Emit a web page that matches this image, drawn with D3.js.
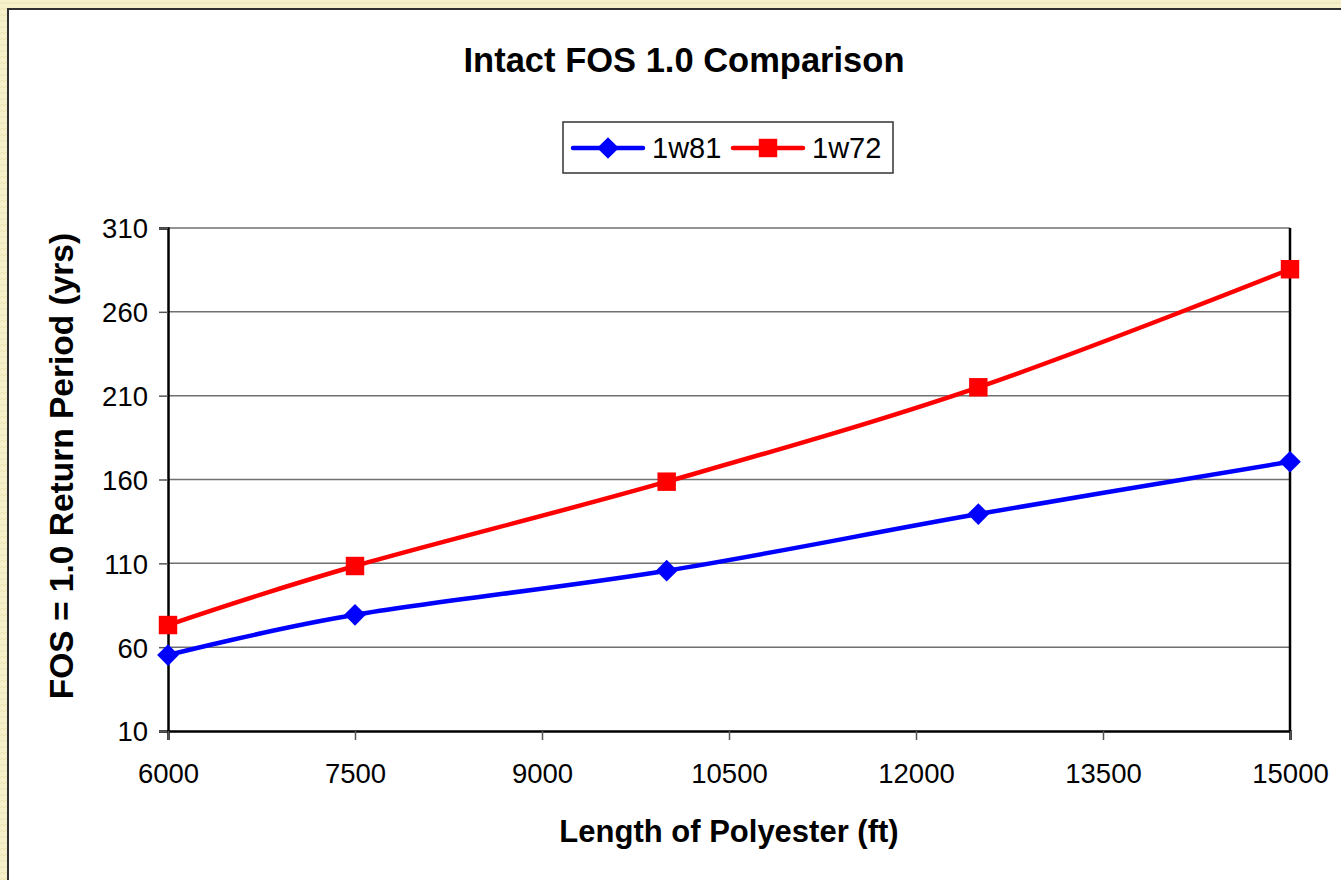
<!DOCTYPE html>
<html>
<head>
<meta charset="utf-8">
<script src="https://cdn.jsdelivr.net/npm/d3@7/dist/d3.min.js"></script>
<style>
  html, body { margin: 0; padding: 0; background: #f6f0c9; }
  svg { display: block; }
  text { font-family: "Liberation Sans", Arial, sans-serif; }
</style>
</head>
<body>
<svg id="chart" width="1341" height="880"></svg>
<script>
// Data
const lengths = [6000, 7500, 10000, 12500, 15000];
const series1w81 = [55.3, 79.3, 105.6, 139.4, 170.6];
const series1w72 = [73.2, 108.4, 158.7, 215.0, 285.4];
const seriesNames = ["1w81", "1w72"];
const xTicks = [6000, 7500, 9000, 10500, 12000, 13500, 15000];
const yTicks = [10, 60, 110, 160, 210, 260, 310];

const svg = d3.select("#chart");
const W = 1341, H = 880;

// Textured pale-yellow backdrop
const defs = svg.append("defs");
const pat = defs.append("pattern")
  .attr("id", "weave").attr("width", 8).attr("height", 6)
  .attr("patternUnits", "userSpaceOnUse");
pat.append("rect").attr("width", 8).attr("height", 6).attr("fill", "#f7f1cb");
pat.append("path").attr("d", "M0 4 L2 2 L4 4 L6 2 L8 4")
  .attr("fill", "none").attr("stroke", "#ebe3b4").attr("stroke-width", 1);
svg.append("rect").attr("width", W).attr("height", H).attr("fill", "url(#weave)");

// Chart sheet
svg.append("rect").attr("x", 8).attr("y", 9).attr("width", W).attr("height", H)
  .attr("fill", "#ffffff").attr("stroke", "#303030").attr("stroke-width", 2);

const plot = { left: 168, right: 1290, top: 228, bottom: 731 };

const x = d3.scaleLinear().domain([6000, 15000]).range([plot.left, plot.right]);
const y = d3.scaleLinear().domain([10, 310]).range([plot.bottom, plot.top]);

// Horizontal gridlines
svg.append("g")
  .selectAll("line").data(yTicks.filter(t => t !== 10)).join("line")
  .attr("x1", plot.left).attr("x2", plot.right)
  .attr("y1", d => y(d)).attr("y2", d => y(d))
  .attr("stroke", "#707070").attr("stroke-width", 1.5);

// Right border of plot area
svg.append("line")
  .attr("x1", plot.right).attr("x2", plot.right)
  .attr("y1", plot.top).attr("y2", plot.bottom)
  .attr("stroke", "#000").attr("stroke-width", 2.5);

// Axes
const yAxis = d3.axisLeft(y).tickValues(yTicks).tickSize(9).tickPadding(11).tickFormat(d3.format("d"));
const xAxis = d3.axisBottom(x).tickValues(xTicks).tickSize(9).tickPadding(23).tickFormat(d3.format("d"));

const gy = svg.append("g").attr("transform", `translate(${plot.left},0)`).call(yAxis);
const gx = svg.append("g").attr("transform", `translate(0,${plot.bottom})`).call(xAxis);
[gx, gy].forEach(g => {
  g.select(".domain").attr("stroke", "#000").attr("stroke-width", 2.5);
  g.selectAll(".tick line").attr("stroke", "#555").attr("stroke-width", 1.5);
  g.selectAll(".tick text").attr("font-size", 27.5).attr("fill", "#000")
    .attr("font-family", "'Liberation Sans', Arial, sans-serif");
});
gy.selectAll(".tick text").attr("dy", "0.36em");

// Lines
const curve = d3.curveCatmullRom.alpha(0);
const lineGen = d3.line().x(d => x(d[0])).y(d => y(d[1])).curve(curve);
const s1 = lengths.map((l, i) => [l, series1w81[i]]);
const s2 = lengths.map((l, i) => [l, series1w72[i]]);

svg.append("path").datum(s1).attr("d", lineGen)
  .attr("fill", "none").attr("stroke", "#0000ff").attr("stroke-width", 4.5)
  .attr("stroke-linejoin", "round");
svg.append("path").datum(s2).attr("d", lineGen)
  .attr("fill", "none").attr("stroke", "#ff0000").attr("stroke-width", 4.5)
  .attr("stroke-linejoin", "round");

const diamond = d3.symbol().type(d3.symbolDiamond2).size(300);
const square = d3.symbol().type(d3.symbolSquare).size(340);

svg.append("g").selectAll("path").data(s1).join("path")
  .attr("d", diamond)
  .attr("transform", d => `translate(${x(d[0])},${y(d[1])})`)
  .attr("fill", "#0000ff");
svg.append("g").selectAll("path").data(s2).join("path")
  .attr("d", square)
  .attr("transform", d => `translate(${x(d[0])},${y(d[1])})`)
  .attr("fill", "#ff0000");

// Title
svg.append("text").attr("x", 684).attr("y", 72).attr("text-anchor", "middle")
  .attr("font-size", 34.5).attr("font-weight", "bold").text("Intact FOS 1.0 Comparison");

// Axis titles
svg.append("text").attr("x", 729).attr("y", 842).attr("text-anchor", "middle")
  .attr("font-size", 31).attr("font-weight", "bold").text("Length of Polyester (ft)");
svg.append("text").attr("transform", "translate(73,466) rotate(-90)").attr("text-anchor", "middle")
  .attr("font-size", 33.5).attr("font-weight", "bold").text("FOS = 1.0 Return Period (yrs)");

// Legend
const lg = svg.append("g");
lg.append("rect").attr("x", 563).attr("y", 122).attr("width", 330).attr("height", 51)
  .attr("fill", "#fff").attr("stroke", "#333").attr("stroke-width", 1.5);
const legendItems = [
  { name: seriesNames[0], color: "#0000ff", sym: diamond, x0: 573 },
  { name: seriesNames[1], color: "#ff0000", sym: square, x0: 733 }
];
legendItems.forEach(it => {
  lg.append("line").attr("x1", it.x0).attr("x2", it.x0 + 70).attr("y1", 148).attr("y2", 148)
    .attr("stroke", it.color).attr("stroke-width", 4.5).attr("stroke-linecap", "round");
  lg.append("path").attr("d", it.sym)
    .attr("transform", `translate(${it.x0 + 35},148)`).attr("fill", it.color);
  lg.append("text").attr("x", it.x0 + 79).attr("y", 158).attr("font-size", 29).text(it.name);
});
</script>
</body>
</html>
